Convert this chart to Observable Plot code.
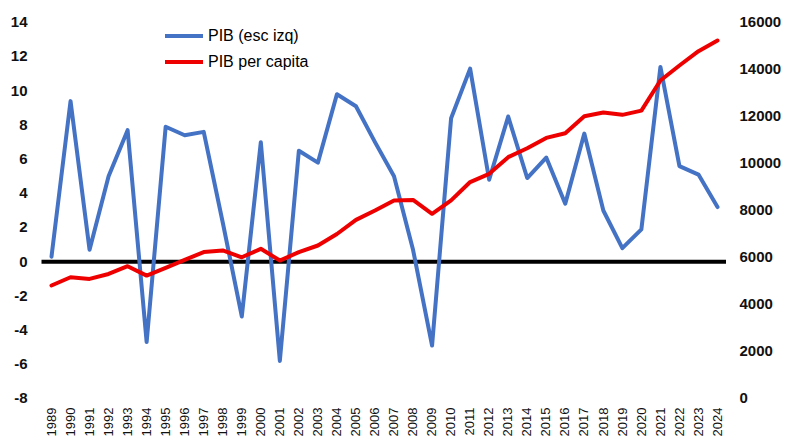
<!DOCTYPE html>
<html><head><meta charset="utf-8">
<script src="https://cdn.jsdelivr.net/npm/d3@7"></script>
<script src="https://cdn.jsdelivr.net/npm/@observablehq/plot@0.6"></script>
<style>
body{margin:0;background:#fff;}
#wrap{position:relative;width:787px;height:444px;font-family:"Liberation Sans",Arial,sans-serif;}
.leg{position:absolute;left:165px;font-size:16px;color:#000;display:flex;align-items:center;line-height:16px;white-space:nowrap;}
.sw{width:38px;height:4px;margin-right:5px;}
</style></head><body><div id="wrap"></div>
<script>
const years = [1989,1990,1991,1992,1993,1994,1995,1996,1997,1998,1999,2000,2001,2002,2003,2004,2005,2006,2007,2008,2009,2010,2011,2012,2013,2014,2015,2016,2017,2018,2019,2020,2021,2022,2023,2024];
const gdpGrowth = [0.3,9.4,0.7,5.0,7.7,-4.7,7.9,7.4,7.6,2.3,-3.2,7.0,-5.8,6.5,5.8,9.8,9.1,7.0,5.0,0.7,-4.9,8.4,11.3,4.8,8.5,4.9,6.1,3.4,7.5,3.0,0.8,1.9,11.4,5.6,5.1,3.2];
const gdpPerCapita = [4810,5160,5090,5300,5630,5230,5560,5900,6230,6300,6010,6370,5870,6230,6510,7000,7600,8000,8430,8450,7860,8430,9210,9560,10270,10650,11090,11290,12010,12170,12070,12250,13530,14170,14780,15230];
const leftTicks = [-8,-6,-4,-2,0,2,4,6,8,10,12,14];
const rightTicks = [0,2000,4000,6000,8000,10000,12000,14000,16000];
const seriesNames = ["PIB (esc izq)", "PIB per capita"];
const seriesColors = ["#4472C4", "#EE0000"];

// right scale 0..16000 mapped onto left scale -8..14
const toLeft = v => v * 22 / 16000 - 8;
const fromLeft = d => String(Math.round((d + 8) * 16000 / 22));

const gdpData = years.map((y, i) => ({year: y, v: gdpGrowth[i]}));
const pcData = years.map((y, i) => ({year: y, v: toLeft(gdpPerCapita[i])}));

const chart = Plot.plot({
  width: 787,
  height: 444,
  marginLeft: 51,
  marginRight: 70,
  marginTop: 22,
  marginBottom: 46,
  style: {fontFamily: '"Liberation Sans", Arial, sans-serif', color: "#111", background: "#fff"},
  x: {domain: [1989, 2024]},
  y: {domain: [-8, 14]},
  marks: [
    Plot.axisY(leftTicks, {anchor: "left", tickSize: 0, tickPadding: 24, fontSize: 15, fontWeight: "bold", tickFormat: d => String(d), label: null}),
    Plot.axisY(rightTicks.map(toLeft), {anchor: "right", tickSize: 0, tickPadding: 22, fontSize: 15, fontWeight: "bold", tickFormat: fromLeft, label: null}),
    Plot.axisX(years, {tickRotate: -90, tickSize: 0, tickPadding: 9, fontSize: 13, tickFormat: d => String(d), label: null}),
    Plot.ruleY([0], {stroke: "#000", strokeWidth: 4, insetLeft: -9.5, insetRight: -9}),
    Plot.line(gdpData, {x: "year", y: "v", stroke: seriesColors[0], strokeWidth: 4, strokeLinejoin: "round"}),
    Plot.line(pcData, {x: "year", y: "v", stroke: seriesColors[1], strokeWidth: 4, strokeLinejoin: "round"})
  ]
});
const wrap = document.getElementById("wrap");
wrap.appendChild(chart);
seriesNames.forEach((name, i) => {
  const d = document.createElement("div");
  d.className = "leg";
  d.style.top = (i === 0 ? 28 : 54) + "px";
  d.innerHTML = `<span class="sw" style="background:${seriesColors[i]}"></span>${name}`;
  wrap.appendChild(d);
});
</script>
</body></html>
